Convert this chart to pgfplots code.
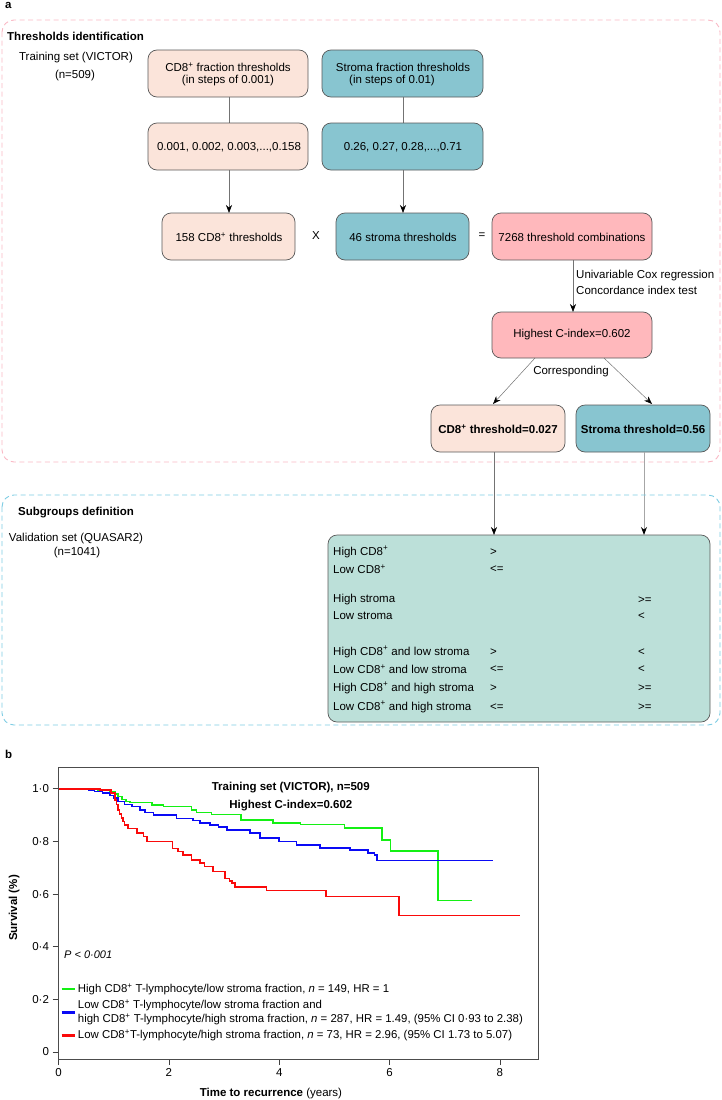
\documentclass[border=0pt]{standalone}
\usepackage{fontspec}
\setmainfont{Liberation Sans}
\usepackage{pgfplots}
\pgfplotsset{compat=1.18}
\usetikzlibrary{arrows.meta}
\definecolor{peach}{RGB}{251,228,218}
\definecolor{teal2}{RGB}{136,197,208}
\definecolor{pinkbox}{RGB}{255,184,188}
\definecolor{mint}{RGB}{188,224,217}
\definecolor{pinkdash}{RGB}{249,184,196}
\definecolor{bluedash}{RGB}{126,204,227}
\definecolor{kmgreen}{RGB}{20,240,20}
\definecolor{kmblue}{RGB}{10,10,245}
\definecolor{kmred}{RGB}{250,10,10}
\begin{document}
\begin{tikzpicture}
\path[use as bounding box] (0pt,0pt) rectangle (722pt,-1100pt);
\begin{scope}[x=1pt,y=-1pt,font=\fontsize{11.5}{13.8}\selectfont,
  box/.style={draw=black!65, line width=0.7pt, rounded corners=9pt},
  arr/.style={draw=black!55, line width=0.5pt, -{Stealth[length=8pt,width=6pt,color=black]}},
  ln/.style={draw=black!55, line width=0.5pt}]
% panel a label
\node[anchor=base west, font=\bfseries\fontsize{11.5}{13}\selectfont, inner sep=0pt] at (5,9) {a};
% pink dashed region
\draw[pinkdash, line width=0.9pt, dash pattern=on 5pt off 3.5pt, rounded corners=12pt] (2,20) rectangle (720,462);
\node[anchor=west, font=\bfseries\fontsize{11.5}{13.8}\selectfont, inner sep=0pt] at (7,36) {Thresholds identification};
\node at (76,58) {Training set (VICTOR)};
\node at (75,76) {(n=509)};
% row 1
\draw[box, fill=peach] (148,50) rectangle (308,97);
\node at (228,67) {CD8\textsuperscript{+} fraction thresholds};
\node at (228,81) {(in steps of 0.001)};
\draw[box, fill=teal2] (322,50) rectangle (483,97);
\node at (403,67) {Stroma fraction thresholds};
\node at (392,81) {(in steps of 0.01)};
\draw[ln] (229,97) -- (229,123);
\draw[ln] (403,97) -- (403,123);
% row 2
\draw[box, fill=peach] (148,123) rectangle (308,170);
\node at (229,147) {0.001, 0.002, 0.003,...,0.158};
\draw[box, fill=teal2] (322,123) rectangle (483,170);
\node at (403,147) {0.26, 0.27, 0.28,...,0.71};
\draw[arr] (229,170) -- (229,213);
\draw[arr] (403,170) -- (403,213);
% row 3
\draw[box, fill=peach] (162,213) rectangle (295,260);
\node at (229,237) {158 CD8\textsuperscript{+} thresholds};
\node at (316,236) {X};
\draw[box, fill=teal2] (336,213) rectangle (469,260);
\node at (403,237) {46 stroma thresholds};
\node at (482,236) {=};
\draw[box, fill=pinkbox] (492,213) rectangle (652,260);
\node at (572,237) {7268 threshold combinations};
\draw[arr] (573,260) -- (573,312);
\node[anchor=west, inner sep=0pt] at (576,276) {Univariable Cox regression};
\node[anchor=west, inner sep=0pt] at (576,290) {Concordance index test};
\draw[box, fill=pinkbox] (492,312) rectangle (652,358);
\node at (572,335) {Highest C-index=0.602};
\draw[arr] (535,358) -- (493,404);
\draw[arr] (604,358) -- (652,404);
\node at (571,372) {Corresponding};
\draw[box, fill=peach] (431,405) rectangle (565,452);
\node[font=\bfseries\fontsize{11.5}{13.8}\selectfont] at (498,429) {CD8\textsuperscript{+} threshold=0.027};
\draw[box, fill=teal2] (576,405) rectangle (710,452);
\node[font=\bfseries\fontsize{11.5}{13.8}\selectfont] at (643,429) {Stroma threshold=0.56};
\draw[arr] (494,452) -- (494,535);
\draw[arr, draw=black!35, line width=0.9pt] (644,452) -- (644,535);
% blue dashed region
\draw[bluedash, line width=0.9pt, dash pattern=on 5pt off 3.5pt, rounded corners=12pt] (2,495) rectangle (720,725);
\node[anchor=west, font=\bfseries\fontsize{11.5}{13.8}\selectfont, inner sep=0pt] at (18,513) {Subgroups definition};
\node at (76,539) {Validation set (QUASAR2)};
\node at (77,553) {(n=1041)};
\draw[box, fill=mint] (328,535) rectangle (710,722);
\begin{scope}[every node/.style={anchor=west, inner sep=0pt}]
\node at (333,552) {High CD8\textsuperscript{+}};
\node at (333,569) {Low CD8\textsuperscript{+}};
\node at (333,600) {High stroma};
\node at (333,616) {Low stroma};
\node at (333,652) {High CD8\textsuperscript{+} and low stroma};
\node at (333,669) {Low CD8\textsuperscript{+} and low stroma};
\node at (333,688) {High CD8\textsuperscript{+} and high stroma};
\node at (333,707) {Low CD8\textsuperscript{+} and high stroma};
\node at (490,552) {>};
\node at (490,569) {<=};
\node at (490,652) {>};
\node at (490,669) {<=};
\node at (490,688) {>};
\node at (490,707) {<=};
\node at (638,600) {>=};
\node at (638,616) {<};
\node at (638,652) {<};
\node at (638,669) {<};
\node at (638,688) {>=};
\node at (638,707) {>=};
\end{scope}
% panel b label
\node[anchor=base west, font=\bfseries\fontsize{11.5}{13}\selectfont, inner sep=0pt] at (5,758) {b};
\end{scope}

\begin{axis}[
  at={(58.5pt,-1059pt)}, anchor=south west,
  scale only axis, width=479.5pt, height=292pt,
  xmin=0, xmax=8.69, ymin=-0.027, ymax=1.083,
  xtick={0,2,4,6,8}, xticklabels={0,2,4,6,8},
  ytick={0,0.2,0.4,0.6,0.8,1},
  yticklabels={0,0·2,0·4,0·6,0·8,1·0},
  tick align=outside, xtick pos=bottom, ytick pos=left,
  major tick length=6pt,
  every tick/.style={black!75, line width=0.7pt},
  axis line style={black!70, line width=0.7pt},
  tick label style={font=\fontsize{11.5}{13}\selectfont},
  xlabel={\textbf{Time to recurrence} (years)},
  ylabel={\textbf{Survival (\%)}},
  xlabel style={at={(axis description cs:0.443,-0.117)}, anchor=center, font=\fontsize{11.5}{13}\selectfont},
  ylabel style={at={(axis description cs:-0.0927,0.517)}, anchor=center, font=\fontsize{11.5}{13}\selectfont},
  clip=false,
  legend cell align=left,
  legend style={at={(axis cs:0.03,0.266)}, anchor=north west, draw=none, fill=none,
    font=\fontsize{11.4}{14}\selectfont, row sep=2pt, cells={align=left}, inner sep=0pt},
  legend image code/.code={\draw[#1,line width=2.6pt] (0pt,0pt) -- (13pt,0pt);},
]
\addplot[const plot, kmgreen, line width=1.5pt] coordinates {
(0,1) (0.72,0.995) (0.93,0.99) (1.02,0.98) (1.08,0.97) (1.15,0.96) (1.22,0.952)
(1.3,0.948) (1.69,0.939) (1.9,0.933) (2.41,0.92) (2.5,0.91) (2.77,0.902)
(3.31,0.882) (3.89,0.871) (4.39,0.864) (5.18,0.851) (5.86,0.806) (6.02,0.764)
(6.88,0.576) (7.49,0.576)};
\addlegendentry{High CD8\textsuperscript{+} T-lymphocyte/low stroma fraction, \textit{n} = 149, HR = 1}
\addplot[const plot, kmblue, line width=1.5pt] coordinates {
(0,1) (0.43,0.998) (0.55,0.995) (0.65,0.99) (0.8,0.985) (0.93,0.975) (1.0,0.965)
(1.08,0.952) (1.2,0.94) (1.33,0.933) (1.48,0.92) (1.57,0.91) (1.72,0.901)
(2.14,0.888) (2.44,0.88) (2.56,0.87) (2.75,0.862) (2.9,0.855) (3.05,0.844)
(3.47,0.832) (3.65,0.813) (4.0,0.80) (4.31,0.787) (4.74,0.776) (5.28,0.768)
(5.61,0.757) (5.73,0.749) (5.77,0.728) (7.87,0.728)};
\addlegendentry{Low CD8\textsuperscript{+} T-lymphocyte/low stroma fraction and\\high CD8\textsuperscript{+} T-lymphocyte/high stroma fraction, \textit{n} = 287, HR = 1.49, (95\% CI 0·93 to 2.38)}
\addplot[const plot, kmred, line width=1.5pt] coordinates {
(0,1) (0.75,0.995) (0.95,0.985) (1.02,0.958) (1.05,0.94) (1.08,0.92) (1.11,0.905)
(1.14,0.889) (1.17,0.875) (1.2,0.863) (1.26,0.85) (1.42,0.832) (1.54,0.819)
(1.6,0.80) (2.07,0.774) (2.17,0.762) (2.26,0.749) (2.41,0.73) (2.56,0.718)
(2.65,0.705) (2.8,0.686) (3.02,0.66) (3.1,0.65) (3.14,0.642) (3.2,0.627)
(3.77,0.613) (4.85,0.59) (6.17,0.518) (8.36,0.518)};
\addlegendentry{Low CD8\textsuperscript{+}T-lymphocyte/high stroma fraction, \textit{n} = 73, HR = 2.96, (95\% CI 1.73 to 5.07)}
\node[font=\bfseries\fontsize{11.5}{13.8}\selectfont] at (axis cs:4.21,1.004) {Training set (VICTOR), n=509};
\node[font=\bfseries\fontsize{11.5}{13.8}\selectfont] at (axis cs:4.21,0.935) {Highest C-index=0.602};
\node[anchor=west, font=\itshape\fontsize{11}{13}\selectfont, inner sep=0pt] at (axis cs:0.1,0.369) {P < 0·001};
\end{axis}
\end{tikzpicture}
\end{document}
